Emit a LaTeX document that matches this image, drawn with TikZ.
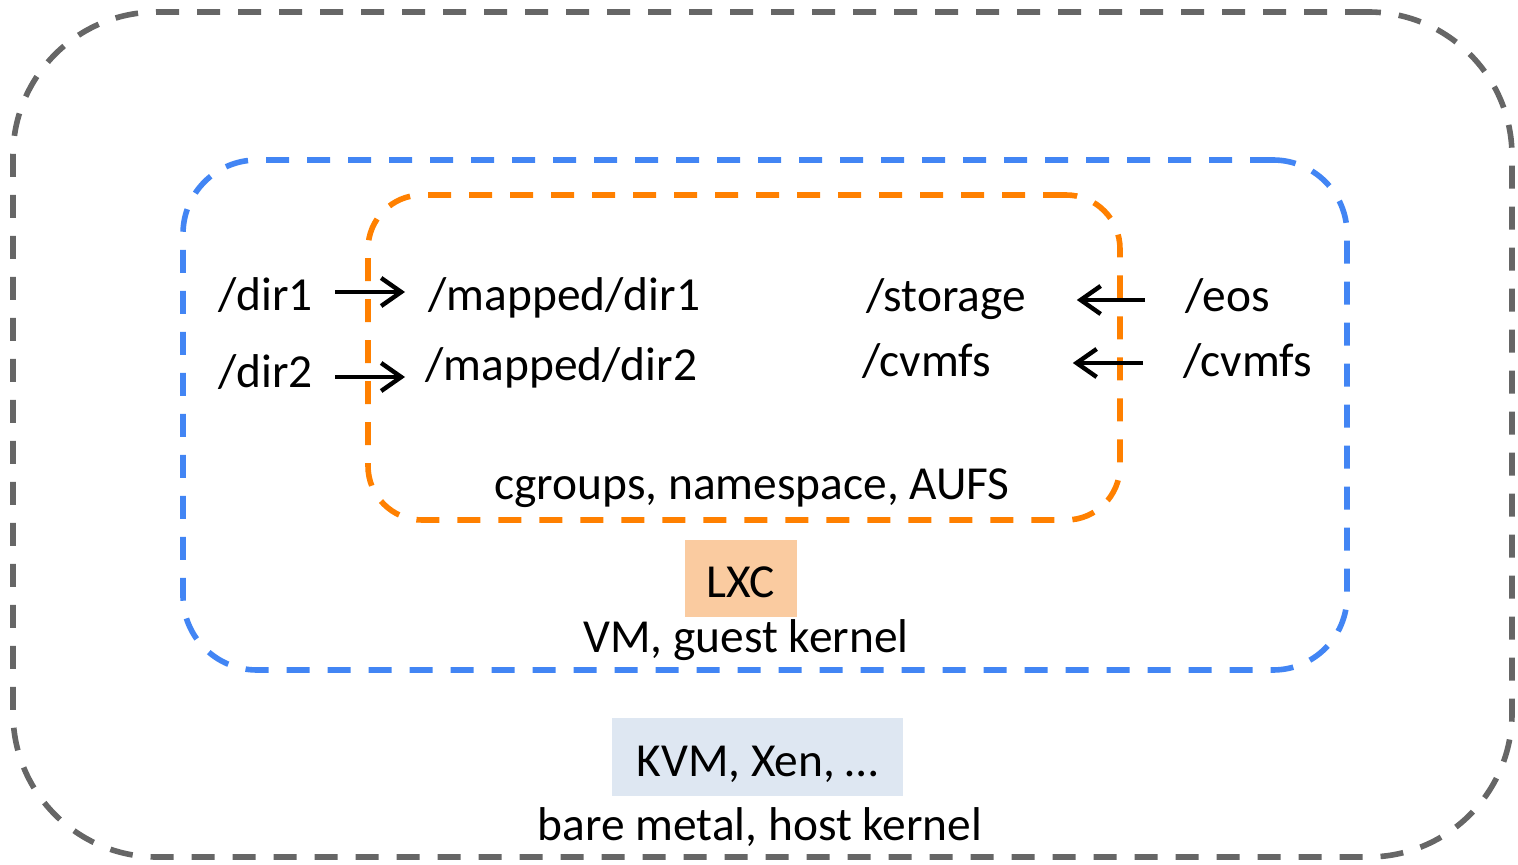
\documentclass[tikz,border=0pt]{standalone}
\usepackage{fontspec}
\setmainfont{Carlito}
\usetikzlibrary{arrows.meta,positioning}
\definecolor{hostgray}{RGB}{102,102,102}
\definecolor{vmblue}{RGB}{66,133,244}
\definecolor{lxcorange}{RGB}{255,128,0}
\definecolor{lxcfill}{RGB}{250,203,160}
\definecolor{kvmfill}{RGB}{222,231,242}

\begin{document}
\begin{tikzpicture}[x=0.5pt, y=-0.5pt,
    frame/.style={rectangle, line width=2.8pt, dash pattern=on 11.5pt off 9pt},
    lbl/.style={font=\fontsize{23.7}{28}\selectfont, inner sep=0pt, text height=18pt, text depth=4pt},
    tag/.style={rectangle, inner sep=0pt, font=\fontsize{23.7}{28}\selectfont, text height=20pt, text depth=0.7pt},
    map/.style={line width=2.2pt, -{Straight Barb[length=10pt,width=14pt]}}
]
    \useasboundingbox (0,0) rectangle (1518,865);

    % Host, VM and container frames
    \node[frame, draw=hostgray, minimum width=749.5pt, minimum height=422.5pt, rounded corners=72pt] (host) at (762.5,434.5) {};
    \node[frame, draw=vmblue, minimum width=582pt, minimum height=255pt, rounded corners=37pt] (vm) at (765,415) {};
    \node[frame, draw=lxcorange, minimum width=376pt, minimum height=162.5pt, rounded corners=27pt] (lxc) at (744,357.5) {};

    % Mapped directories, left side
    \node[lbl, anchor=west] (d1) at (218,297) {/dir1};
    \node[lbl, anchor=west] (d2) at (218,373) {/dir2};
    \node[lbl, anchor=west] (m1) at (428,297) {/mapped/dir1};
    \node[lbl, anchor=west] (m2) at (425,367) {/mapped/dir2};

    % Mounted file systems, right side
    \node[lbl, anchor=west, text width=82pt] (st) at (866,298) {/storage};
    \node[lbl, anchor=west, text width=82pt] (cv) at (862,363) {/cvmfs};
    \node[lbl, anchor=west] (eos) at (1185,298) {/eos};
    \node[lbl, anchor=west] (cvh) at (1183,363) {/cvmfs};

    \draw[map, shorten <=11pt, shorten >=11.5pt] ([yshift=2.5pt]d1.east) -- ([yshift=2.5pt]d1.east -| m1.west);
    \draw[map, shorten <=11pt, shorten >=10pt] ([yshift=-2pt]d2.east) -- ([yshift=-2pt]d2.east -| m2.west);
    \draw[map, shorten <=20pt, shorten >=23pt] ([yshift=-1pt]eos.west) -- ([yshift=-1pt]eos.west -| st.east);
    \draw[map, shorten <=20pt, shorten >=23pt] (cvh.west) -- (cvh.west -| cv.east);

    % Layer captions
    \node[lbl] (cg) at (752,485) {cgroups, namespace, AUFS};
    \node[tag, fill=lxcfill, minimum width=56pt, minimum height=38.5pt] (lxctag) at (741,578.5) {LXC};
    \node[lbl] (guest) at (746,638) {VM, guest kernel};
    \node[tag, fill=kvmfill, minimum width=145.5pt, minimum height=39pt] (kvm) at (757.5,757) {KVM, Xen, …};
    \node[lbl] (bare) at (760,826) {bare metal, host kernel};
\end{tikzpicture}
\end{document}
